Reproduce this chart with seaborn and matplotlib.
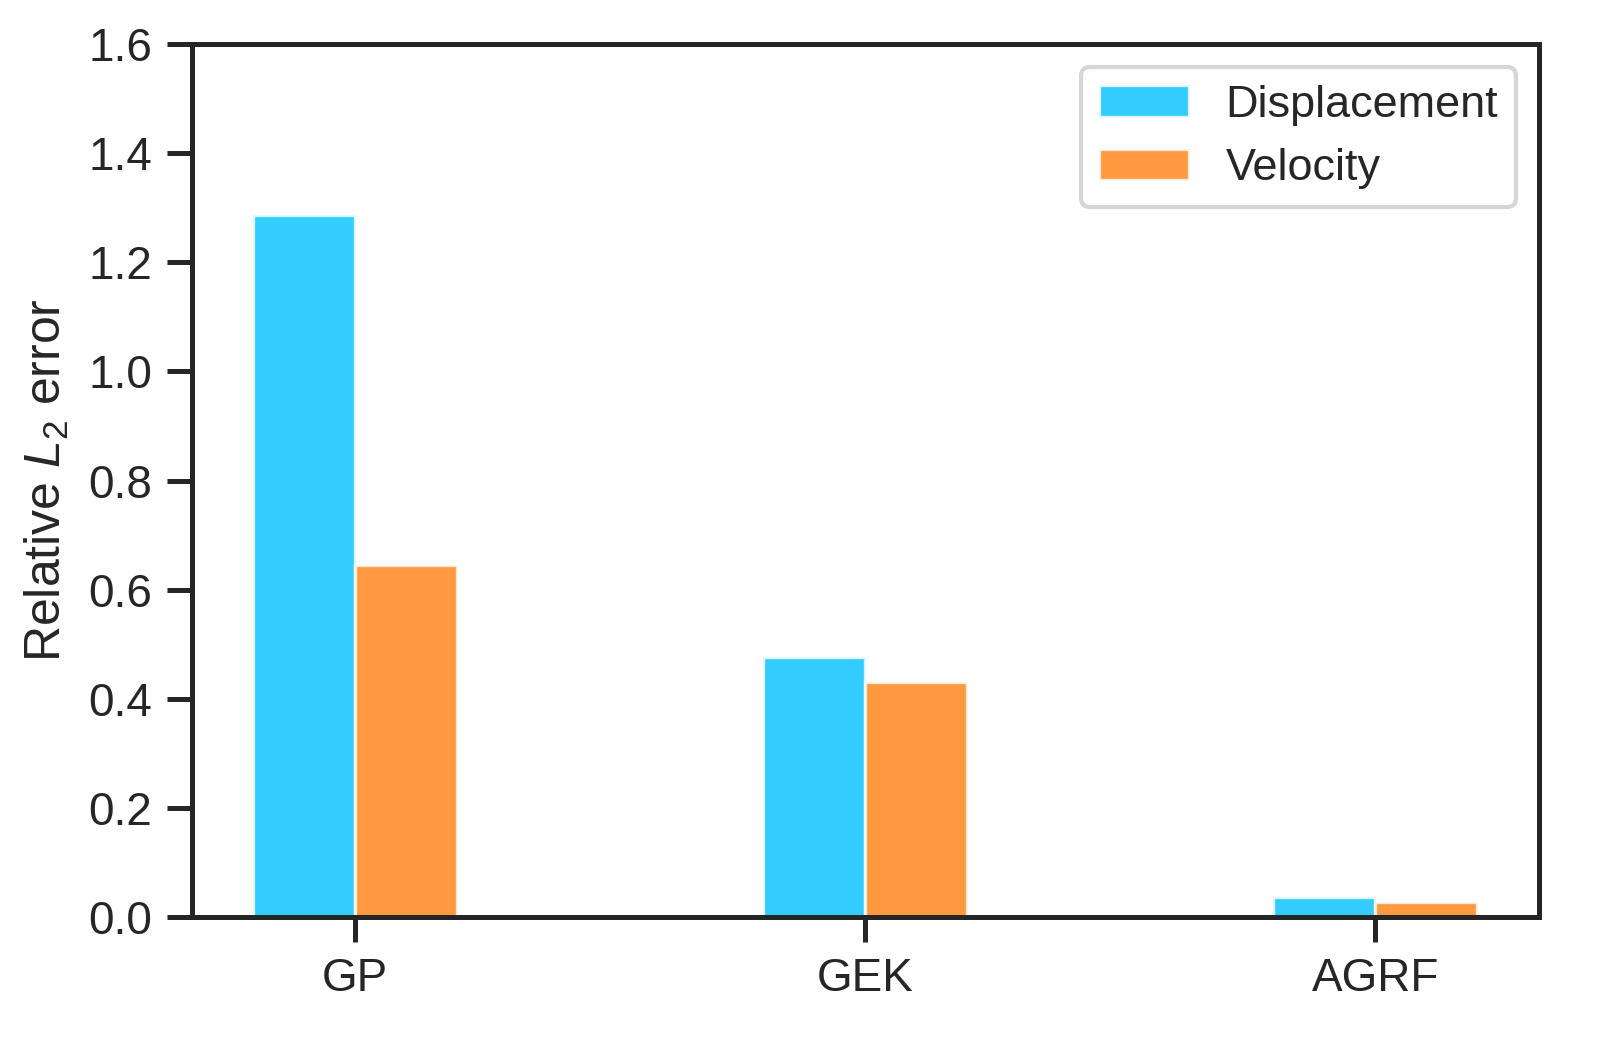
import matplotlib
matplotlib.use("Agg")
import matplotlib.pyplot as plt
import seaborn as sns
import pandas as pd

methods = ["GP", "GEK", "AGRF"]
displacement = [1.287, 0.477, 0.037]
velocity = [0.645, 0.431, 0.028]
series_names = ["Displacement", "Velocity"]
colors = ["#33CCFF", "#FF9A40"]

df = pd.DataFrame({
    "method": methods * 2,
    "value": displacement + velocity,
    "series": [series_names[0]] * 3 + [series_names[1]] * 3,
})

sns.set_theme(style="ticks")
plt.rcParams["font.family"] = ["Liberation Sans", "DejaVu Sans"]
plt.rcParams["mathtext.fontset"] = "custom"
plt.rcParams["mathtext.it"] = "Liberation Sans:italic"
plt.rcParams["mathtext.rm"] = "Liberation Sans"

fig = plt.figure(figsize=(1623 / 300, 1062 / 300), dpi=300)
ax = fig.add_axes([0.118, 0.1365, 0.830, 0.822])

sns.barplot(data=df, x="method", y="value", hue="series", palette=colors,
            width=0.4, edgecolor=(1, 1, 1, 0.8), linewidth=0.8, ax=ax,
            saturation=1)

ax.set_xlim(-0.32, 2.32)
ax.set_ylim(0, 1.6)
ax.set_yticks([0, 0.2, 0.4, 0.6, 0.8, 1.0, 1.2, 1.4, 1.6])
ax.set_xlabel("")
ax.set_ylabel("Relative $L_2$ error", fontsize=12)
ax.tick_params(axis="both", labelsize=11, length=6, width=1.2)
for s in ax.spines.values():
    s.set_linewidth(1.2)
    s.set_color("#262626")

ax.legend(title=None, loc="upper right", fontsize=10.8, frameon=True)

fig.savefig("out.png", dpi=300)
